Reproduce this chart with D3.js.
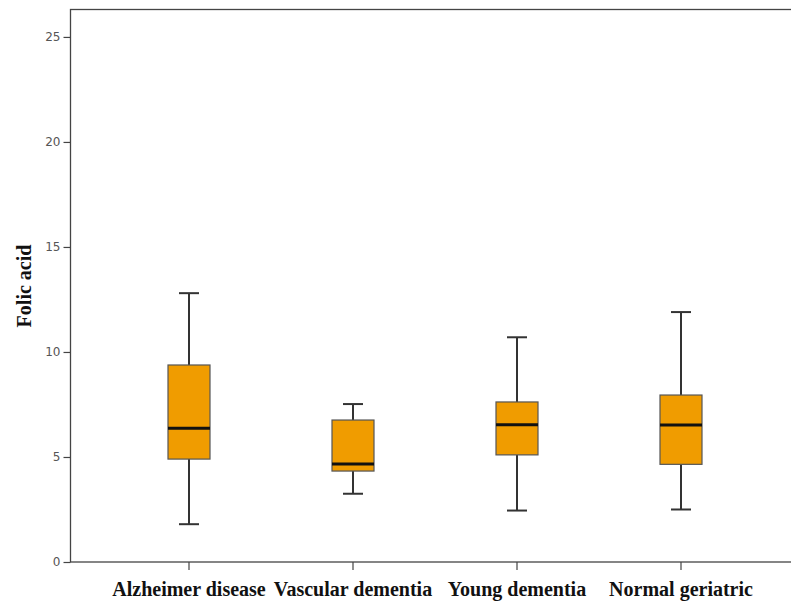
<!DOCTYPE html>
<html>
<head>
<meta charset="utf-8">
<script src="https://cdn.jsdelivr.net/npm/d3@7"></script>
<style>
  body { margin: 0; background: #fff; }
  svg { display: block; }
</style>
</head>
<body>
<svg id="chart" width="791" height="602"></svg>
<script>
// values
const groups = ["Alzheimer disease", "Vascular dementia", "Young dementia", "Normal geriatric"];
const lowWhisker = [1.8, 3.25, 2.45, 2.5];
const q1 = [4.9, 4.33, 5.1, 4.65];
const median = [6.37, 4.67, 6.53, 6.52];
const q3 = [9.38, 6.76, 7.62, 7.95];
const highWhisker = [12.8, 7.52, 10.7, 11.9];
const yTicks = [0, 5, 10, 15, 20, 25];

let data = groups.map(function (g, i) {
    return { name: g, lo: lowWhisker[i], q1: q1[i], med: median[i], q3: q3[i], hi: highWhisker[i] };
});

let svg = d3.select("#chart");

let x = d3.scaleBand()
    .domain(groups)
    .range([107, 763]);

let y = d3.scaleLinear()
    .domain([0, 26.33])
    .range([562, 9]);

// frame (runs off the right edge like the original)
svg.append("rect")
    .attr("x", 70.5)
    .attr("y", 9.5)
    .attr("width", 740)
    .attr("height", 552.5)
    .attr("fill", "none")
    .attr("stroke", "#444")
    .attr("stroke-width", 1.3);

// Y axis
let yAxis = svg.append("g")
    .attr("transform", "translate(70.5,0)")
    .call(d3.axisLeft(y).tickValues(yTicks).tickSize(7).tickPadding(3));
yAxis.select(".domain").remove();
yAxis.selectAll("line").attr("stroke", "#444").attr("stroke-width", 1.2);
yAxis.selectAll("text")
    .attr("fill", "#555")
    .style("font-family", "'DejaVu Sans', sans-serif")
    .style("font-size", "12px");

// X axis
let xAxis = svg.append("g")
    .attr("transform", "translate(0,562)")
    .call(d3.axisBottom(x).tickSize(8).tickPadding(12));
xAxis.select(".domain").remove();
xAxis.selectAll("line").attr("stroke", "#444").attr("stroke-width", 1.2);
xAxis.selectAll("text")
    .attr("fill", "#111")
    .style("font-family", "'Liberation Serif', 'Times New Roman', serif")
    .style("font-weight", "bold")
    .style("font-size", "20px");

// axis title
svg.append("text")
    .attr("transform", "translate(31,286) rotate(-90)")
    .attr("text-anchor", "middle")
    .style("font-family", "'Liberation Serif', 'Times New Roman', serif")
    .style("font-weight", "bold")
    .style("font-size", "20px")
    .attr("fill", "#111")
    .text("Folic acid");

let boxW = 42, capW = 20;

let box = svg.selectAll(".box")
    .data(data)
    .enter().append("g")
    .attr("class", "box")
    .attr("transform", function (d) { return "translate(" + (x(d.name) + x.bandwidth() / 2) + ",0)"; });

// whiskers
box.append("line")
    .attr("x1", 0).attr("x2", 0)
    .attr("y1", function (d) { return y(d.hi); })
    .attr("y2", function (d) { return y(d.q3); })
    .attr("stroke", "#333").attr("stroke-width", 2);
box.append("line")
    .attr("x1", 0).attr("x2", 0)
    .attr("y1", function (d) { return y(d.q1); })
    .attr("y2", function (d) { return y(d.lo); })
    .attr("stroke", "#333").attr("stroke-width", 2);
box.append("line")
    .attr("x1", -capW / 2).attr("x2", capW / 2)
    .attr("y1", function (d) { return y(d.hi); })
    .attr("y2", function (d) { return y(d.hi); })
    .attr("stroke", "#333").attr("stroke-width", 2);
box.append("line")
    .attr("x1", -capW / 2).attr("x2", capW / 2)
    .attr("y1", function (d) { return y(d.lo); })
    .attr("y2", function (d) { return y(d.lo); })
    .attr("stroke", "#333").attr("stroke-width", 2);

// boxes
box.append("rect")
    .attr("x", -boxW / 2)
    .attr("width", boxW)
    .attr("y", function (d) { return y(d.q3); })
    .attr("height", function (d) { return y(d.q1) - y(d.q3); })
    .attr("fill", "#f09c00")
    .attr("stroke", "#555")
    .attr("stroke-width", 1.2);

// median
box.append("line")
    .attr("x1", -boxW / 2).attr("x2", boxW / 2)
    .attr("y1", function (d) { return y(d.med); })
    .attr("y2", function (d) { return y(d.med); })
    .attr("stroke", "#111").attr("stroke-width", 3);
</script>
</body>
</html>
